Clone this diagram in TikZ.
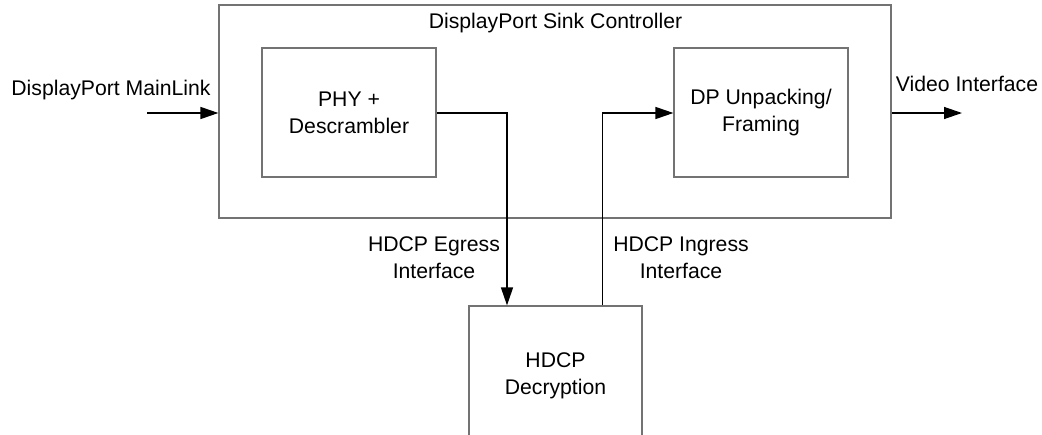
\documentclass[tikz,border=0pt]{standalone}
\usepackage{fontspec}
\setmainfont{Liberation Sans}
\usetikzlibrary{arrows.meta}
\begin{document}
\begin{tikzpicture}[x=0.75pt,y=-0.75pt,
  every node/.style={font=\fontsize{15.9pt}{20.25pt}\selectfont, inner sep=0pt},
  box/.style={draw=black!55, line width=0.9pt, fill=white, align=center},
  lbl/.style={align=center},
  conn/.style={draw=black, line width=1pt},
  arr/.style={conn, -{Triangle[length=13.5pt,width=9pt]}}]
\clip (0,0) rectangle (1042,435);
\fill[white] (0,0) rectangle (1042,435);
% outer box
\node[box, minimum width=504pt, minimum height=159.75pt] (ctrl) at (555,111.5) {};
\node[anchor=base] (title) at (555.5,29) {DisplayPort Sink Controller};
% inner boxes
\node[box, minimum width=130.5pt, minimum height=96.75pt] (phy) at (349,112.5) {PHY +\\Descrambler};
\node[box, minimum width=130.5pt, minimum height=96.75pt] (dp) at (761,112.5) {DP Unpacking/\\Framing};
\node[box, minimum width=129.75pt, minimum height=105pt] (hdcp) at (555.5,376) {HDCP\\Decryption};
% labels
\node[anchor=base] (inlbl) at (111,95) {DisplayPort MainLink};
\node[anchor=base] (outlbl) at (967,92) {Video Interface};
\node[lbl] (eglbl) at (434,258) {HDCP Egress\\Interface};
\node[lbl] (inglbl) at (681,258) {HDCP Ingress\\Interface};
% coordinates
\coordinate (in) at (147,113);
\coordinate (out) at (962,113);
\coordinate (egtop) at (507,113);
% connectors
\draw[arr] (in) -- (in -| ctrl.west);
\draw[arr] (ctrl.east |- out) -- (out);
\draw[arr] (phy.east |- egtop) -- (egtop) -- (egtop |- hdcp.north);
\draw[arr] ([xshift=100.5pt]hdcp.north west) |- (dp.west |- egtop);
\end{tikzpicture}
\end{document}
